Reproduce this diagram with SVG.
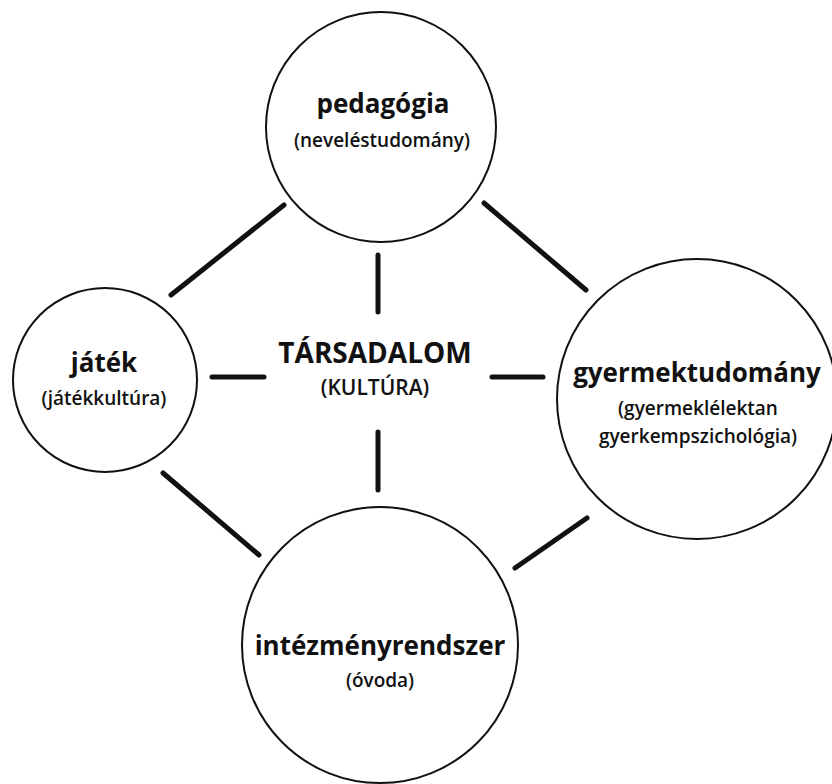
<svg xmlns="http://www.w3.org/2000/svg" width="832" height="784" viewBox="0 0 832 784">
<style>
.node{fill:#fff;stroke:#111;stroke-width:2}
.title{font-family:"Open Sans","Noto Sans",sans-serif;font-weight:700;font-size:26px;fill:#111;text-anchor:middle}
.sub{font-family:"Open Sans","Noto Sans",sans-serif;font-weight:600;font-size:19px;fill:#111;text-anchor:middle}
.conn line{stroke:#111;stroke-width:5;stroke-linecap:round}
</style>
<rect width="832" height="784" fill="#fff"/>
<g class="conn" id="connectors">
<line x1="378" y1="255" x2="378" y2="312"/>
<line x1="378" y1="432" x2="378" y2="490"/>
<line x1="212" y1="377" x2="264" y2="377"/>
<line x1="492" y1="377" x2="543" y2="377"/>
<line x1="171" y1="295" x2="284" y2="205"/>
<line x1="484" y1="203" x2="586" y2="290"/>
<line x1="163" y1="473" x2="259" y2="555"/>
<line x1="515" y1="568" x2="587" y2="518"/>
</g>
<g id="pedagogia">
<circle class="node" cx="381" cy="127" r="115"/>
<text class="title" x="383" y="113">pedagógia</text>
<text class="sub" x="382" y="147">(neveléstudomány)</text>
</g>
<g id="jatek">
<circle class="node" cx="105" cy="380" r="92"/>
<text class="title" x="104" y="372">játék</text>
<text class="sub" x="104" y="405">(játékkultúra)</text>
</g>
<g id="gyermektudomany">
<circle class="node" cx="697" cy="399" r="140"/>
<text class="title" x="697" y="382">gyermektudomány</text>
<text class="sub" x="698" y="415">(gyermeklélektan</text>
<text class="sub" x="698" y="443">gyerkempszichológia)</text>
</g>
<g id="intezmenyrendszer">
<circle class="node" cx="380" cy="645" r="138"/>
<text class="title" x="380" y="655">intézményrendszer</text>
<text class="sub" x="380" y="687">(óvoda)</text>
</g>
<g id="tarsadalom">
<text class="title" x="375" y="363" style="font-size:28px">TÁRSADALOM</text>
<text class="sub" x="375" y="395" style="font-size:21px">(KULTÚRA)</text>
</g>
</svg>
